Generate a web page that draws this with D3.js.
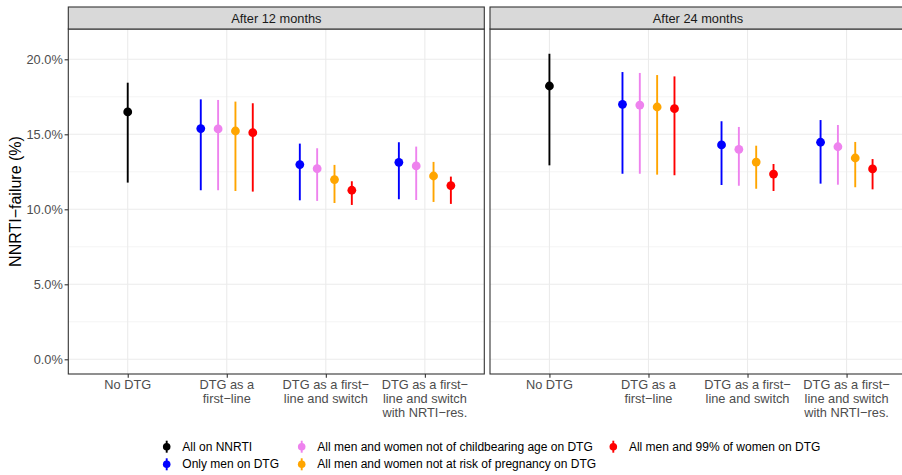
<!DOCTYPE html>
<html>
<head>
<meta charset="utf-8">
<script src="https://cdn.jsdelivr.net/npm/d3@7"></script>
<style>
  html, body { margin: 0; padding: 0; background: #fff; }
  svg { display: block; font-family: "Liberation Sans", Arial, Helvetica, sans-serif; }
</style>
</head>
<body>
<svg id="chart" width="902" height="475"></svg>
<script>
// Facets, categories and series
const panels = ["After 12 months", "After 24 months"];
const categories = ["No DTG", "DTG as a first−line", "DTG as a first−line and switch", "DTG as a first−line and switch with NRTI−res."];
const categoryLines = [
  ["No DTG"],
  ["DTG as a", "first−line"],
  ["DTG as a first−", "line and switch"],
  ["DTG as a first−", "line and switch", "with NRTI−res."]
];
const seriesNames = [
  "All on NNRTI",
  "Only men on DTG",
  "All men and women not of childbearing age on DTG",
  "All men and women not at risk of pregnancy on DTG",
  "All men and 99% of women on DTG"
];
const seriesColors = ["#000000", "#0000FF", "#EE82EE", "#FFA500", "#FF0000"];
const yTicks = [0, 5, 10, 15, 20];

// NNRTI-failure (%) estimates with lower / upper bounds; rows = series, columns = categories
const est12 = [
  [16.49, null, null, null],
  [null, 15.38, 12.98, 13.13],
  [null, 15.36, 12.71, 12.89],
  [null, 15.22, 11.98, 12.22],
  [null, 15.11, 11.27, 11.58]
];
const lo12 = [
  [11.78, null, null, null],
  [null, 11.27, 10.60, 10.67],
  [null, 11.27, 10.56, 10.62],
  [null, 11.22, 10.42, 10.49],
  [null, 11.18, 10.29, 10.36]
];
const hi12 = [
  [18.44, null, null, null],
  [null, 17.33, 14.38, 14.47],
  [null, 17.29, 14.07, 14.18],
  [null, 17.18, 12.96, 13.16],
  [null, 17.07, 11.87, 12.18]
];
const est24 = [
  [18.22, null, null, null],
  [null, 17.00, 14.29, 14.47],
  [null, 16.95, 14.00, 14.17],
  [null, 16.82, 13.15, 13.42],
  [null, 16.71, 12.35, 12.69]
];
const lo24 = [
  [12.93, null, null, null],
  [null, 12.37, 11.62, 11.71],
  [null, 12.37, 11.57, 11.64],
  [null, 12.31, 11.37, 11.47],
  [null, 12.27, 11.22, 11.33]
];
const hi24 = [
  [20.37, null, null, null],
  [null, 19.15, 15.87, 15.95],
  [null, 19.09, 15.49, 15.62],
  [null, 18.95, 14.24, 14.49],
  [null, 18.86, 13.02, 13.35]
];

const panelData = [
  { est: est12, lo: lo12, hi: hi12 },
  { est: est24, lo: lo24, hi: hi24 }
];

// Layout
const svg = d3.select("#chart");
const panelTop = 29, panelBottom = 374, stripTop = 7;
const panelX = [[68.3, 484.3], [490, 906]];
const dark = "#333333", grid = "#EBEBEB", tickText = "#4D4D4D";
const textSize = 12.8;

const y = d3.scaleLinear().domain([-0.98, 22.02]).range([panelBottom, panelTop]);
const color = d3.scaleOrdinal().domain(seriesNames).range(seriesColors);

panels.forEach((title, p) => {
  const [x0, x1] = panelX[p];
  const x = d3.scalePoint().domain(categories).range([x0, x1]).padding(0.6);
  const step = x.step();
  const dodgeWidth = 0.7 * step;
  const g = svg.append("g");

  // panel background + grid
  g.append("rect").attr("x", x0).attr("y", panelTop).attr("width", x1 - x0).attr("height", panelBottom - panelTop).attr("fill", "#fff");
  const minor = [2.5, 7.5, 12.5, 17.5];
  g.selectAll(".minor").data(minor).join("line")
    .attr("x1", x0).attr("x2", x1).attr("y1", d => y(d)).attr("y2", d => y(d))
    .attr("stroke", grid).attr("stroke-width", 0.6);
  g.selectAll(".major").data(yTicks).join("line")
    .attr("x1", x0).attr("x2", x1).attr("y1", d => y(d)).attr("y2", d => y(d))
    .attr("stroke", grid).attr("stroke-width", 1.1);
  g.selectAll(".vmajor").data(categories).join("line")
    .attr("x1", d => x(d)).attr("x2", d => x(d)).attr("y1", panelTop).attr("y2", panelBottom)
    .attr("stroke", grid).attr("stroke-width", 1.1);

  // point ranges, dodged within each category
  const { est, lo, hi } = panelData[p];
  const marks = [];
  categories.forEach((c, ci) => {
    const present = seriesNames.map((s, si) => si).filter(si => est[si][ci] != null);
    const n = present.length;
    present.forEach((si, k) => {
      const off = n === 1 ? 0 : (-dodgeWidth / 2 + dodgeWidth / n * (k + 0.5));
      marks.push({ cx: x(c) + off, est: est[si][ci], lo: lo[si][ci], hi: hi[si][ci], s: seriesNames[si] });
    });
  });
  const mg = g.append("g");
  mg.selectAll("line.range").data(marks).join("line")
    .attr("x1", d => d.cx).attr("x2", d => d.cx)
    .attr("y1", d => y(d.lo)).attr("y2", d => y(d.hi))
    .attr("stroke", d => color(d.s)).attr("stroke-width", 1.9);
  mg.selectAll("circle").data(marks).join("circle")
    .attr("cx", d => d.cx).attr("cy", d => y(d.est)).attr("r", 4.4)
    .attr("fill", d => color(d.s));

  // panel border
  g.append("rect").attr("x", x0).attr("y", panelTop).attr("width", x1 - x0).attr("height", panelBottom - panelTop)
    .attr("fill", "none").attr("stroke", dark).attr("stroke-width", 1.1);

  // strip
  g.append("rect").attr("x", x0).attr("y", stripTop).attr("width", x1 - x0).attr("height", panelTop - stripTop)
    .attr("fill", "#D9D9D9").attr("stroke", dark).attr("stroke-width", 1.1);
  g.append("text").attr("x", (x0 + x1) / 2).attr("y", 22.6)
    .attr("text-anchor", "middle").attr("font-size", textSize).attr("fill", "#1A1A1A").text(title);

  // x axis
  const xAxis = d3.axisBottom(x).tickSize(3.7).tickFormat("");
  const xa = g.append("g").attr("transform", `translate(0,${panelBottom})`).call(xAxis);
  xa.select(".domain").remove();
  xa.selectAll(".tick line").attr("stroke", dark).attr("stroke-width", 1.1);
  categories.forEach((c, ci) => {
    const t = g.append("text").attr("text-anchor", "middle").attr("font-size", textSize).attr("fill", tickText);
    categoryLines[ci].forEach((ln, li) => {
      t.append("tspan").attr("x", x(c)).attr("y", 389.3 + li * 14).text(ln);
    });
  });

  // y axis on the first panel only
  if (p === 0) {
    const yAxis = d3.axisLeft(y).tickValues(yTicks).tickSize(3.7).tickPadding(1.8)
      .tickFormat(d => d.toFixed(1) + "%");
    const ya = g.append("g").attr("transform", `translate(${x0},0)`).call(yAxis);
    ya.select(".domain").remove();
    ya.selectAll(".tick line").attr("stroke", dark).attr("stroke-width", 1.1);
    ya.selectAll(".tick text").attr("font-size", textSize).attr("fill", tickText)
      .attr("font-family", "'Liberation Sans', Arial, sans-serif");
  }
});

// y title
svg.append("text")
  .attr("transform", `translate(21.3,201.5) rotate(-90)`)
  .attr("text-anchor", "middle").attr("font-size", 16).attr("fill", "#000")
  .text("NNRTI−failure (%)");

// legend: two rows, filled by column
const legendCols = [166.7, 301.7, 613.3];
const legendRows = [446.7, 464.3];
const legend = svg.append("g");
seriesNames.forEach((s, i) => {
  const col = Math.floor(i / 2), row = i % 2;
  const cx = legendCols[col], cy = legendRows[row];
  const lg = legend.append("g");
  lg.append("line").attr("x1", cx).attr("x2", cx).attr("y1", cy - 6).attr("y2", cy + 6)
    .attr("stroke", color(s)).attr("stroke-width", 1.9);
  lg.append("circle").attr("cx", cx).attr("cy", cy).attr("r", 3.8).attr("fill", color(s));
  lg.append("text").attr("x", cx + 15.6).attr("y", cy + 4.1).attr("font-size", 12).attr("fill", "#000").text(s);
});
</script>
</body>
</html>
